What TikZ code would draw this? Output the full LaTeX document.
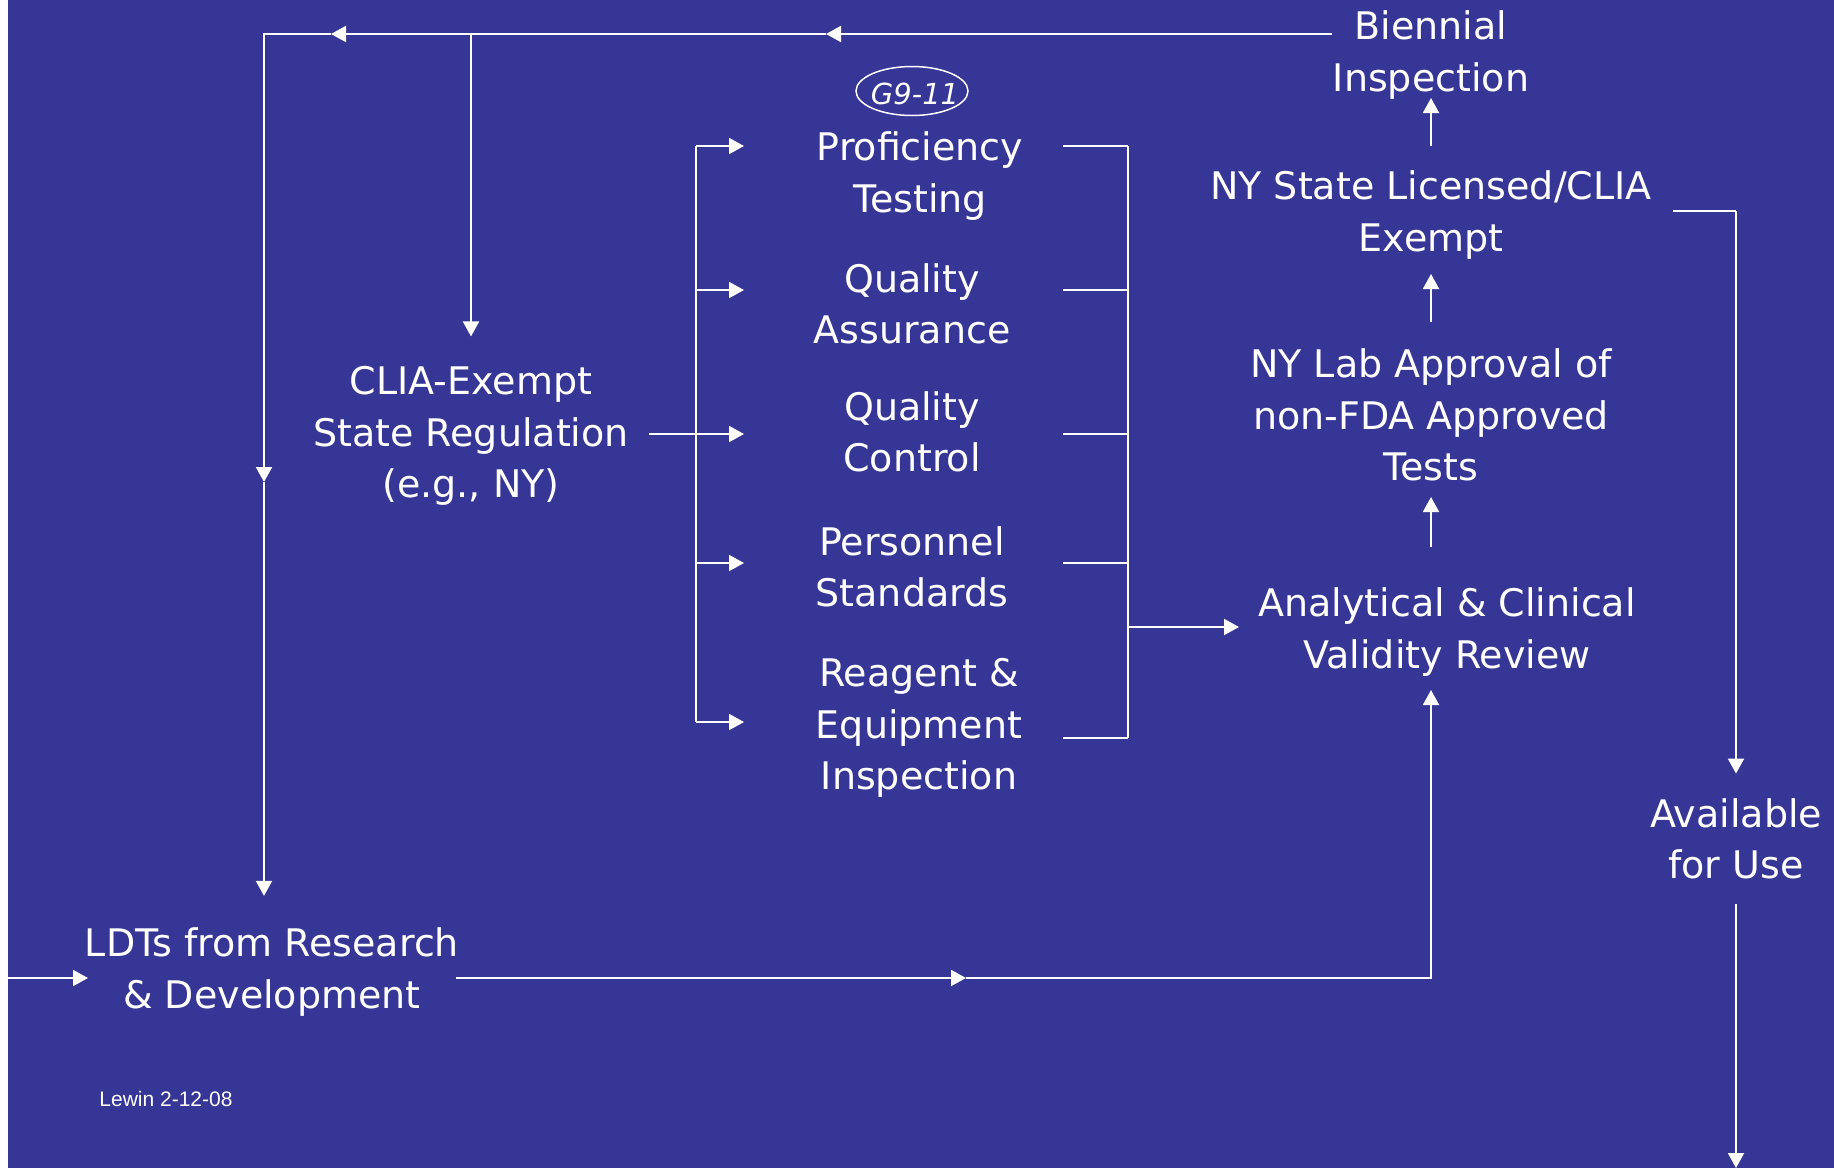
\documentclass[tikz,border=0pt]{standalone}
\usepackage{fontspec}
\setmainfont{DejaVu Sans}
\newfontfamily\notefont{Liberation Sans}
\usetikzlibrary{arrows.meta,shapes.geometric,calc}
\definecolor{slideblue}{RGB}{54,54,150}
\begin{document}
\begin{tikzpicture}[x=1pt,y=-1pt,line width=2pt,white,
	>={Triangle[length=15pt,width=16pt]},
	font=\fontsize{38}{51.5}\selectfont,
	lbl/.style={align=center,inner sep=0pt,text=white}]
	\useasboundingbox (0,0) rectangle (1834,1168);
	\fill[white] (0,0) rectangle (1834,1168);
	\fill[slideblue] (8,0) rectangle (1834,1168);
	% boxes (text only)
	\node[lbl] (bien) at (1431,55) {Biennial\\Inspection};
	\node[lbl] (nysl) at (1431,215) {NY State Licensed/CLIA\\Exempt};
	\node[lbl] (nylab) at (1431,415) {NY Lab Approval of\\non-FDA Approved\\Tests};
	\node[lbl] (acv) at (1447,632) {Analytical \& Clinical\\Validity Review};
	\node[lbl] (avail) at (1736,839) {Available\\for Use};
	\node[lbl] (ldt) at (272,972) {LDTs from Research\\\& Development};
	\node[lbl] (clia) at (471,436) {CLIA-Exempt\\State Regulation\\(e.g., NY)};
	\node[lbl] (pt) at (920,176) {Proficiency\\Testing};
	\node[lbl] (qa) at (912,304) {Quality\\Assurance};
	\node[lbl] (qc) at (912,432) {Quality\\Control};
	\node[lbl] (ps) at (912,567) {Personnel\\Standards};
	\node[lbl] (rei) at (919,728) {Reagent \&\\Equipment\\Inspection};
	\node[draw,ellipse,line width=1.5pt,minimum width=112pt,minimum height=49pt,inner sep=0pt] (g911) at (912,91) {};
	\node[lbl,font=\fontsize{29}{32}\selectfont\itshape] (g911txt) at (915,94) {G9-11};
	\node[lbl,font=\notefont\fontsize{21}{24}\selectfont] (lewin) at (166,1099) {Lewin 2-12-08};
	% feedback loop along the top
	\coordinate (tl) at (264,34);
	\coordinate (brL) at (696,146);
	\coordinate (brR) at (1128,146);
	\draw[->] (tl -| bien.west) -- (826,34);
	\draw[->] (826,34) -- (331,34);
	\draw[->] (331,34) -- (tl) -- (264,482);
	\draw[->] (264,482) -- ($(ldt.north -| tl)+(0,-31)$);
	\draw[->] (tl -| clia) -- ($(clia.north)+(0,-29)$);
	% left bracket
	\draw ($(clia.east |- 0,434)+(19,0)$) -- (696,434);
	\draw (brL) -- (696,722);
	\foreach \y in {146,290,434,563,722}
		\draw[->] (696,\y) -- (744,\y);
	% right bracket
	\foreach \y in {146,290,434,563,738}
		\draw (1063,\y) -- (1128,\y);
	\draw (brR) -- (1128,738);
	\draw[->] (1128,627) -- (1239,627);
	% right column
	\draw[->] (1431,547) -- (1431,497);
	\draw[->] (1431,322) -- (1431,274);
	\draw[->] (1431,146) -- (1431,98);
	\draw (1673,211) -- (1736,211);
	\draw[->] (1736,211) -- ($(avail.north)+(0,-24)$);
	\draw[->] ($(avail.south)+(0,24)$) -- (1736,1168);
	% bottom
	\draw[->] (8,978) -- (88,978);
	\draw[->] (456,978) -- (966,978);
	\draw[->] (966,978) -- (1431,978) -- (1431,690);
\end{tikzpicture}
\end{document}
